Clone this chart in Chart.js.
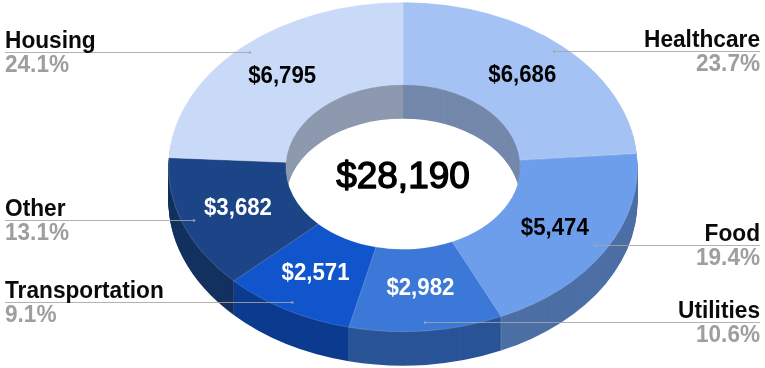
<!DOCTYPE html>
<html>
<head>
<meta charset="utf-8">
<script src="https://cdn.jsdelivr.net/npm/chart.js@4"></script>
<style>
html, body { margin: 0; padding: 0; background: #fff; }
canvas { display: block; filter: blur(0.3px); }
</style>
</head>
<body>
<canvas id="donut" width="765" height="368"></canvas>
<script>
var categories = ["Healthcare", "Food", "Utilities", "Transportation", "Other", "Housing"];
var amounts = [6686, 5474, 2982, 2571, 3682, 6795];
var percentLabels = ["23.7%", "19.4%", "10.6%", "9.1%", "13.1%", "24.1%"];
var totalLabel = "$28,190";
var topColors = ["#a4c2f4", "#6d9eeb", "#3c78d8", "#1155cc", "#1c4587", "#c9daf8"];
var wallColors = ["#7388ab", "#4c6fa5", "#2a5497", "#0c3b8f", "#13315f", "#8d99ae"];
var amountColors = ["#000", "#000", "#fff", "#fff", "#fff", "#000"];

var FONT = '"Liberation Sans", Arial, sans-serif';
var STRETCH_X = 235 / 165; // the ellipse is wider than the chart area radius
var DEPTH = 34;

// squeeze < 1 narrows the glyphs, the reference text is a bit taller than it is wide
function drawText(ctx, text, x, y, color, font, squeeze, stroke) {
    ctx.save();
    ctx.translate(x, y);
    ctx.scale(squeeze, 1);
    ctx.font = font + " " + FONT;
    ctx.fillStyle = color;
    ctx.fillText(text, 0, 0);
    if (stroke) {
        ctx.strokeStyle = color;
        ctx.lineWidth = stroke;
        ctx.lineJoin = "round";
        ctx.strokeText(text, 0, 0);
    }
    ctx.restore();
}

// x,y on the squashed ellipse for an arc's middle angle, at a share of the outer radius
function ellipsePoint(arc, share) {
    var p = arc.getProps(["x", "y", "startAngle", "endAngle", "outerRadius"], true);
    var mid = (p.startAngle + p.endAngle) / 2;
    return {
        x: p.x + Math.cos(mid) * p.outerRadius * share * STRETCH_X,
        y: p.y + Math.sin(mid) * p.outerRadius * share,
        right: Math.cos(mid) > 0
    };
}

var tiltPlugin = {
    id: "tilt",
    beforeDatasetsDraw: function (chart) {
        var ctx = chart.ctx;
        var arcs = chart.getDatasetMeta(0).data;
        var cx = arcs[0].x, cy = arcs[0].y;

        // side walls: the slices stacked from the bottom up in the darker colours
        for (var d = DEPTH; d >= 1; d--) {
            ctx.save();
            ctx.translate(cx, cy + d);
            ctx.scale(STRETCH_X, 1);
            arcs.forEach(function (arc, i) {
                var p = arc.getProps(["startAngle", "endAngle", "innerRadius", "outerRadius"], true);
                ctx.beginPath();
                ctx.arc(0, 0, p.outerRadius, p.startAngle, p.endAngle);
                ctx.arc(0, 0, p.innerRadius, p.endAngle, p.startAngle, true);
                ctx.closePath();
                ctx.fillStyle = wallColors[i];
                ctx.fill();
            });
            ctx.restore();
        }

        // faint seams on the front of the outer wall
        ctx.save();
        ctx.strokeStyle = "rgba(255,255,255,0.14)";
        ctx.lineWidth = 1;
        arcs.forEach(function (arc) {
            var p = arc.getProps(["startAngle", "outerRadius"], true);
            if (Math.sin(p.startAngle) <= 0) return;
            var x = cx + Math.cos(p.startAngle) * p.outerRadius * STRETCH_X;
            var y = cy + Math.sin(p.startAngle) * p.outerRadius;
            ctx.beginPath();
            ctx.moveTo(x, y);
            ctx.lineTo(x, y + DEPTH);
            ctx.stroke();
        });
        ctx.restore();
    },
    beforeDatasetDraw: function (chart) {
        var ctx = chart.ctx;
        var cx = chart.getDatasetMeta(0).data[0].x;
        ctx.save();
        ctx.translate(cx, 0);
        ctx.scale(STRETCH_X, 1);
        ctx.translate(-cx, 0);
    },
    afterDatasetDraw: function (chart) {
        chart.ctx.restore();
    },
    afterDatasetsDraw: function (chart) {
        var ctx = chart.ctx;
        var arcs = chart.getDatasetMeta(0).data;

        ctx.save();
        // leader lines and outside labels
        arcs.forEach(function (arc, i) {
            var pt = ellipsePoint(arc, 0.95);
            var edge = pt.right ? 760 : 5;
            var y = Math.round(pt.y) - 0.5;
            ctx.strokeStyle = "rgba(165,165,165,0.85)";
            ctx.lineWidth = 1.2;
            ctx.beginPath();
            ctx.moveTo(edge, y);
            ctx.lineTo(pt.x, y);
            ctx.stroke();
            ctx.fillStyle = "rgba(165,165,165,0.9)";
            ctx.beginPath();
            ctx.arc(pt.x, y, 1.3, 0, Math.PI * 2);
            ctx.fill();

            ctx.textAlign = pt.right ? "right" : "left";
            ctx.textBaseline = "alphabetic";
            drawText(ctx, categories[i], edge, y - 5, "#0a0a0a", "bold 24.4px", 0.93);
            drawText(ctx, percentLabels[i], edge, y + 19.5, "#9e9e9e", "bold 23.4px", 0.965);
        });

        // amounts on the slices
        ctx.textAlign = "center";
        ctx.textBaseline = "middle";
        arcs.forEach(function (arc, i) {
            var pt = ellipsePoint(arc, 0.75);
            drawText(ctx, "$" + amounts[i].toLocaleString("en-US"), pt.x, pt.y - 1, amountColors[i], "bold 23.4px", 0.95);
        });

        // total in the hole
        ctx.textBaseline = "alphabetic";
        drawText(ctx, totalLabel, arcs[0].x, 188, "#000", "37px", 1, 1.4);
        ctx.restore();
    }
};

var chart = new Chart(document.getElementById("donut"), {
    type: "doughnut",
    data: {
        labels: categories,
        datasets: [{
            data: amounts,
            backgroundColor: topColors,
            borderColor: "rgba(255,255,255,0.22)",
            borderWidth: 0.6,
            clip: false
        }]
    },
    options: {
        responsive: false,
        animation: false,
        cutout: "50%",
        events: [],
        layout: { padding: { left: 168, right: 127, top: 2, bottom: 36 } },
        plugins: {
            legend: { display: false },
            tooltip: { enabled: false }
        }
    },
    plugins: [tiltPlugin]
});
</script>
</body>
</html>
